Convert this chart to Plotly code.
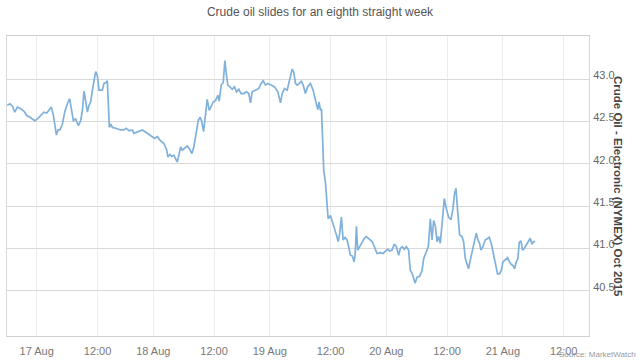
import plotly.graph_objects as go

# ---- data ----
times = [
    "2015-08-16 18:10", "2015-08-16 18:44", "2015-08-16 19:13", "2015-08-16 19:40", "2015-08-16 20:12",
    "2015-08-16 20:51", "2015-08-16 21:30", "2015-08-16 22:02", "2015-08-16 22:41", "2015-08-16 23:09",
    "2015-08-16 23:36", "2015-08-17 00:08", "2015-08-17 00:47", "2015-08-17 01:26", "2015-08-17 01:58",
    "2015-08-17 02:26", "2015-08-17 02:54", "2015-08-17 03:18", "2015-08-17 03:36", "2015-08-17 03:53",
    "2015-08-17 04:12", "2015-08-17 04:36", "2015-08-17 05:04", "2015-08-17 05:31", "2015-08-17 06:03",
    "2015-08-17 06:30", "2015-08-17 06:50", "2015-08-17 07:14", "2015-08-17 07:41", "2015-08-17 08:13",
    "2015-08-17 08:40", "2015-08-17 09:01", "2015-08-17 09:20", "2015-08-17 09:40", "2015-08-17 10:00",
    "2015-08-17 10:19", "2015-08-17 10:39", "2015-08-17 10:59", "2015-08-17 11:18", "2015-08-17 11:38",
    "2015-08-17 11:58", "2015-08-17 12:17", "2015-08-17 12:37", "2015-08-17 12:57", "2015-08-17 13:16",
    "2015-08-17 13:40", "2015-08-17 13:56", "2015-08-17 14:08", "2015-08-17 14:20", "2015-08-17 14:35",
    "2015-08-17 14:56", "2015-08-17 15:35", "2015-08-17 16:34", "2015-08-17 18:13", "2015-08-17 18:41",
    "2015-08-17 19:12", "2015-08-17 19:52", "2015-08-17 20:11", "2015-08-17 20:51", "2015-08-17 21:50",
    "2015-08-17 22:50", "2015-08-17 23:49", "2015-08-18 00:16", "2015-08-18 00:48", "2015-08-18 01:19",
    "2015-08-18 02:06", "2015-08-18 02:38", "2015-08-18 02:53", "2015-08-18 03:17", "2015-08-18 03:41",
    "2015-08-18 04:04", "2015-08-18 04:24", "2015-08-18 04:44", "2015-08-18 05:03", "2015-08-18 05:24",
    "2015-08-18 05:44", "2015-08-18 06:11", "2015-08-18 06:43", "2015-08-18 07:14", "2015-08-18 07:37",
    "2015-08-18 08:01", "2015-08-18 08:29", "2015-08-18 08:53", "2015-08-18 09:12", "2015-08-18 09:32",
    "2015-08-18 09:56", "2015-08-18 10:19", "2015-08-18 10:39", "2015-08-18 11:03", "2015-08-18 11:27",
    "2015-08-18 11:50", "2015-08-18 12:18", "2015-08-18 12:45", "2015-08-18 13:01", "2015-08-18 13:25",
    "2015-08-18 13:49", "2015-08-18 14:08", "2015-08-18 14:28", "2015-08-18 14:43", "2015-08-18 15:07",
    "2015-08-18 15:35", "2015-08-18 16:02", "2015-08-18 16:26", "2015-08-18 16:53", "2015-08-18 18:21",
    "2015-08-18 18:52", "2015-08-18 19:24", "2015-08-18 19:51", "2015-08-18 20:12", "2015-08-18 20:32",
    "2015-08-18 21:11", "2015-08-18 21:50", "2015-08-18 22:18", "2015-08-18 22:42", "2015-08-18 23:09",
    "2015-08-18 23:36", "2015-08-19 00:17", "2015-08-19 00:56", "2015-08-19 01:35", "2015-08-19 02:07",
    "2015-08-19 02:27", "2015-08-19 02:54", "2015-08-19 03:26", "2015-08-19 03:57", "2015-08-19 04:25",
    "2015-08-19 04:44", "2015-08-19 05:04", "2015-08-19 05:24", "2015-08-19 05:51", "2015-08-19 06:11",
    "2015-08-19 06:35", "2015-08-19 07:02", "2015-08-19 07:29", "2015-08-19 08:01", "2015-08-19 08:33",
    "2015-08-19 08:52", "2015-08-19 09:12", "2015-08-19 09:28", "2015-08-19 09:44", "2015-08-19 10:00",
    "2015-08-19 10:12", "2015-08-19 10:23", "2015-08-19 10:39", "2015-08-19 10:59", "2015-08-19 11:19",
    "2015-08-19 11:31", "2015-08-19 11:58", "2015-08-19 12:18", "2015-08-19 12:46", "2015-08-19 13:09",
    "2015-08-19 13:29", "2015-08-19 13:48", "2015-08-19 14:08", "2015-08-19 14:28", "2015-08-19 14:52",
    "2015-08-19 15:15", "2015-08-19 15:34", "2015-08-19 15:54", "2015-08-19 16:18", "2015-08-19 16:38",
    "2015-08-19 16:50", "2015-08-19 18:06", "2015-08-19 18:21", "2015-08-19 18:45", "2015-08-19 19:13",
    "2015-08-19 19:40", "2015-08-19 20:04", "2015-08-19 20:31", "2015-08-19 21:11", "2015-08-19 21:39",
    "2015-08-19 22:10", "2015-08-19 22:50", "2015-08-19 23:21", "2015-08-19 23:52", "2015-08-20 00:16",
    "2015-08-20 00:40", "2015-08-20 01:08", "2015-08-20 01:35", "2015-08-20 01:59", "2015-08-20 02:26",
    "2015-08-20 02:46", "2015-08-20 03:10", "2015-08-20 03:33", "2015-08-20 03:57", "2015-08-20 04:24",
    "2015-08-20 04:44", "2015-08-20 05:08", "2015-08-20 05:40", "2015-08-20 06:04", "2015-08-20 06:34",
    "2015-08-20 07:03", "2015-08-20 07:22", "2015-08-20 07:54", "2015-08-20 08:17", "2015-08-20 08:41",
    "2015-08-20 09:01", "2015-08-20 09:20", "2015-08-20 09:40", "2015-08-20 10:00", "2015-08-20 10:19",
    "2015-08-20 10:39", "2015-08-20 11:03", "2015-08-20 11:27", "2015-08-20 11:50", "2015-08-20 12:17",
    "2015-08-20 12:46", "2015-08-20 13:09", "2015-08-20 13:28", "2015-08-20 13:45", "2015-08-20 14:04",
    "2015-08-20 14:28", "2015-08-20 14:56", "2015-08-20 15:15", "2015-08-20 15:35", "2015-08-20 15:55",
    "2015-08-20 16:14", "2015-08-20 16:34", "2015-08-20 18:01", "2015-08-20 18:25", "2015-08-20 18:45",
    "2015-08-20 19:05", "2015-08-20 19:24", "2015-08-20 19:41", "2015-08-20 20:04", "2015-08-20 20:31",
    "2015-08-20 20:51", "2015-08-20 21:19", "2015-08-20 21:42", "2015-08-20 22:02", "2015-08-20 22:29",
    "2015-08-20 22:57", "2015-08-20 23:20", "2015-08-20 23:41", "2015-08-21 00:01", "2015-08-21 00:28",
    "2015-08-21 00:56", "2015-08-21 01:19", "2015-08-21 01:39", "2015-08-21 01:59", "2015-08-21 02:18",
    "2015-08-21 02:38", "2015-08-21 02:58", "2015-08-21 03:14", "2015-08-21 03:34", "2015-08-21 03:53",
    "2015-08-21 04:13", "2015-08-21 04:37", "2015-08-21 05:04", "2015-08-21 05:24", "2015-08-21 05:44",
    "2015-08-21 06:03", "2015-08-21 06:23",
]
prices = [
    42.69, 42.71, 42.68, 42.61, 42.67, 42.65, 42.62, 42.57, 42.55, 42.53,
    42.51, 42.53, 42.57, 42.61, 42.60, 42.63, 42.67, 42.57, 42.45, 42.34,
    42.40, 42.40, 42.47, 42.61, 42.71, 42.77, 42.65, 42.51, 42.53, 42.45,
    42.51, 42.63, 42.86, 42.71, 42.61, 42.69, 42.73, 42.87, 42.98, 43.09,
    43.04, 42.87, 42.87, 42.87, 42.95, 42.96, 42.98, 42.75, 42.43, 42.47,
    42.43, 42.42, 42.40, 42.40, 42.42, 42.39, 42.40, 42.36, 42.38, 42.40,
    42.36, 42.32, 42.30, 42.32, 42.28, 42.24, 42.17, 42.08, 42.11, 42.09,
    42.10, 42.06, 42.02, 42.10, 42.20, 42.16, 42.18, 42.21, 42.17, 42.12,
    42.20, 42.36, 42.51, 42.55, 42.51, 42.38, 42.59, 42.76, 42.63, 42.69,
    42.73, 42.75, 42.81, 42.74, 42.93, 42.96, 43.22, 43.04, 42.93, 42.91,
    42.88, 42.91, 42.85, 42.88, 42.83, 42.83, 42.85, 42.83, 42.72, 42.85,
    42.87, 42.89, 42.95, 42.98, 42.93, 42.95, 42.93, 42.91, 42.85, 42.72,
    42.83, 42.89, 42.87, 43.02, 43.12, 43.08, 42.95, 42.93, 42.95, 42.98,
    42.93, 42.83, 42.91, 42.95, 42.87, 42.79, 42.71, 42.64, 42.73, 42.63,
    42.65, 42.36, 41.92, 41.78, 41.57, 41.35, 41.39, 41.33, 41.24, 41.16,
    41.08, 41.18, 41.37, 41.10, 41.13, 41.10, 41.02, 40.92, 40.91, 40.84,
    40.92, 41.26, 40.98, 41.02, 41.08, 41.12, 41.14, 41.12, 41.08, 41.02,
    40.94, 40.95, 40.94, 40.97, 40.99, 40.97, 40.98, 41.05, 41.02, 40.92,
    41.00, 41.02, 40.99, 41.02, 40.98, 40.74, 40.70, 40.59, 40.66, 40.67,
    40.74, 40.88, 40.97, 41.02, 41.35, 41.10, 41.33, 41.27, 41.08, 41.14,
    41.06, 41.33, 41.59, 41.47, 41.37, 41.34, 41.47, 41.65, 41.71, 41.45,
    41.16, 41.14, 41.08, 40.88, 40.80, 40.76, 40.86, 40.98, 41.10, 41.18,
    41.10, 41.06, 40.98, 41.02, 41.10, 41.11, 41.13, 41.06, 40.96, 40.84,
    40.70, 40.70, 40.74, 40.84, 40.86, 40.89, 40.84, 40.81, 40.80, 40.76,
    40.84, 40.88, 41.07, 41.09, 40.98, 41.00, 41.04, 41.08, 41.12, 41.05,
    41.08, 41.08,
]

x_tick_vals = [
    "2015-08-17 00:00", "2015-08-17 12:00", "2015-08-18 00:00", "2015-08-18 12:00",
    "2015-08-19 00:00", "2015-08-19 12:00", "2015-08-20 00:00", "2015-08-20 12:00",
    "2015-08-21 00:00", "2015-08-21 12:00",
]
x_tick_text = ["17 Aug", "12:00", "18 Aug", "12:00", "19 Aug", "12:00",
               "20 Aug", "12:00", "21 Aug", "12:00"]
y_tick_vals = [40.5, 41.0, 41.5, 42.0, 42.5, 43.0]

title_text = "Crude oil slides for an eighth straight week"
y_title_text = "Crude Oil - Electronic (NYMEX) Oct 2015"
source_text = "Source: MarketWatch"

fig = go.Figure()
fig.add_trace(go.Scatter(
    x=times, y=prices, mode="lines",
    line=dict(color="#7fb1dc", width=1.7),
    hoverinfo="skip", showlegend=False,
))

fig.update_layout(
    width=640, height=360,
    margin=dict(l=7, r=51, t=36, b=24, autoexpand=False),
    paper_bgcolor="white", plot_bgcolor="white",
    font=dict(family="Liberation Sans, Arial, sans-serif", color="#666"),
    title=dict(text=title_text, x=0.5, xanchor="center", y=1 - 12 / 360,
               yanchor="middle", yref="container",
               font=dict(size=12, color="#555", family="Liberation Sans, Arial, sans-serif")),
    xaxis=dict(
        type="date", automargin=False,
        range=["2015-08-16 18:08", "2015-08-21 17:15"],
        rangebreaks=[dict(pattern="hour", bounds=[17, 18])],
        tickvals=x_tick_vals, ticktext=x_tick_text,
        tickfont=dict(size=11, color="#777"),
        showgrid=True, gridcolor="#ececec", gridwidth=1,
        showline=True, linecolor="#cfcfcf", linewidth=1, mirror=True,
        ticks="", ticklabelstandoff=5,
        zeroline=False,
    ),
    yaxis=dict(
        side="right", automargin=False,
        range=[39.965, 43.51],
        tickvals=y_tick_vals, tickprefix="$", tickformat=".1f",
        tickfont=dict(size=11, color="#666"),
        showgrid=True, gridcolor="#d9d9d9", gridwidth=1,
        showline=True, linecolor="#d9d9d9", linewidth=1, mirror=True,
        ticks="", ticklabelstandoff=1, ticklabelshift=-4,
        zeroline=False,
    ),
)

fig.add_annotation(
    text="<b>" + y_title_text + "</b>", textangle=90,
    xref="paper", yref="paper", x=1, xshift=29, y=0.5,
    xanchor="center", yanchor="middle", showarrow=False,
    font=dict(size=11.5, color="#444", family="Liberation Sans, Arial, sans-serif"),
)
fig.add_annotation(
    text=source_text, xref="paper", yref="paper",
    x=1, xshift=49, y=0, yshift=-18,
    xanchor="right", yanchor="middle", showarrow=False,
    font=dict(size=8, color="#999"),
)

fig.write_html("out.html",
               config={"displayModeBar": False, "staticPlot": True},
               post_script="document.body.style.margin='0';document.body.style.overflow='hidden';")
